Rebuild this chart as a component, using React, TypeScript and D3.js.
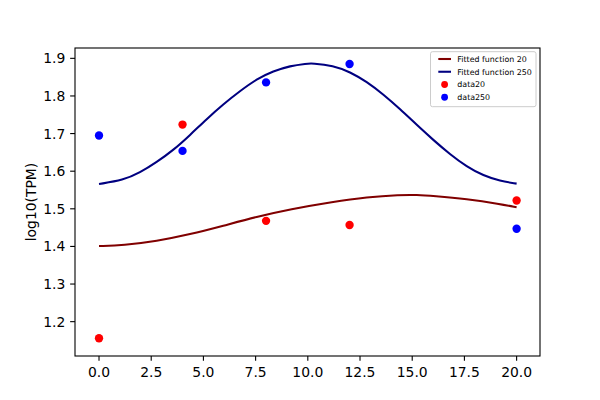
import React from "react";
import * as d3 from "d3";

// Scatter data
const timePoints = [0, 4, 8, 12, 20];
const data20 = [1.156, 1.724, 1.468, 1.457, 1.522];
const data250 = [1.695, 1.654, 1.836, 1.885, 1.447];

// Fitted curves
const fitX250 = [0, 1.16, 1.96, 2.76, 3.56, 4.36, 5.16, 5.95, 6.75, 7.55, 8.35, 9.15, 9.95, 10.2, 11.22, 12.02, 12.82, 13.62, 14.42, 15.22, 16.01, 16.81, 17.61, 18.41, 19.2, 20];
const fitY250 = [1.566, 1.576, 1.596, 1.624, 1.656, 1.696, 1.739, 1.778, 1.813, 1.845, 1.866, 1.88, 1.886, 1.887, 1.881, 1.864, 1.838, 1.804, 1.765, 1.723, 1.683, 1.645, 1.612, 1.588, 1.574, 1.567];
const fitX20 = [0, 1.16, 2.76, 4.36, 5.95, 7.55, 9.15, 11.22, 12.82, 14.42, 15.22, 16.01, 17.61, 19.2, 20];
const fitY20 = [1.401, 1.403, 1.414, 1.432, 1.455, 1.479, 1.499, 1.519, 1.531, 1.537, 1.537, 1.534, 1.526, 1.513, 1.504];

const xTicks = [0, 2.5, 5, 7.5, 10, 12.5, 15, 17.5, 20];
const yTicks = [1.2, 1.3, 1.4, 1.5, 1.6, 1.7, 1.8, 1.9];

const legendLabels = ["Fitted function 20", "Fitted function 250", "data20", "data250"];

const W = 600, H = 400;
const L = 75, R = 540, T = 48, B = 356;
const FONT = "DejaVu Sans";

export default function App() {
  const x = d3.scaleLinear().domain([-1.15, 21.12]).range([L, R]);
  const y = d3.scaleLinear().domain([1.1087, 1.9275]).range([B, T]);

  const line = d3
    .line<[number, number]>()
    .x((d) => x(d[0]))
    .y((d) => y(d[1]))
    .curve(d3.curveBasis);

  const pts20: [number, number][] = fitX20.map((v, i) => [v, fitY20[i]]);
  const pts250: [number, number][] = fitX250.map((v, i) => [v, fitY250[i]]);

  const darkRed = "#800000";
  const navy = "#000080";

  return (
    <svg
      width={W}
      height={H}
      style={{ position: "absolute", left: 0, top: 0, background: "#fff" }}
      fontFamily={FONT}
    >
      <rect x={0} y={0} width={W} height={H} fill="#fff" />
      <defs>
        <clipPath id="plotclip">
          <rect x={L} y={T} width={R - L} height={B - T} />
        </clipPath>
      </defs>
      <g clipPath="url(#plotclip)">
        <path d={line(pts20) || ""} fill="none" stroke={darkRed} strokeWidth={2.08} />
        <path d={line(pts250) || ""} fill="none" stroke={navy} strokeWidth={2.08} />
        {timePoints.map((t, i) => (
          <circle key={"r" + i} cx={x(t)} cy={y(data20[i])} r={4.17} fill="#ff0000" />
        ))}
        {timePoints.map((t, i) => (
          <circle key={"b" + i} cx={x(t)} cy={y(data250[i])} r={4.17} fill="#0000ff" />
        ))}
      </g>
      {/* axes frame */}
      <rect x={L} y={T} width={R - L} height={B - T} fill="none" stroke="#000" strokeWidth={1.1} />
      {/* x ticks */}
      {xTicks.map((t) => (
        <g key={"xt" + t}>
          <line x1={x(t)} x2={x(t)} y1={B} y2={B + 4.86} stroke="#000" strokeWidth={1.1} />
          <text x={x(t)} y={B + 20.5} fontSize={13.9} textAnchor="middle" fill="#000">
            {t.toFixed(1)}
          </text>
        </g>
      ))}
      {/* y ticks */}
      {yTicks.map((t) => (
        <g key={"yt" + t}>
          <line x1={L} x2={L - 4.86} y1={y(t)} y2={y(t)} stroke="#000" strokeWidth={1.1} />
          <text x={L - 9.7} y={y(t) + 5} fontSize={13.9} textAnchor="end" fill="#000">
            {t.toFixed(1)}
          </text>
        </g>
      ))}
      <text
        transform={`translate(${36},${(T + B) / 2}) rotate(-90)`}
        fontSize={13.9}
        textAnchor="middle"
        fill="#000"
      >
        log10(TPM)
      </text>
      {/* legend */}
      <g>
        <rect x={430.5} y={51.7} width={105.5} height={55} rx={2} fill="#fff" fillOpacity={0.8} stroke="#cccccc" strokeWidth={1} />
        {legendLabels.map((lab, i) => {
          const cy = 59 + i * 12.75;
          return (
            <g key={lab}>
              {i < 2 ? (
                <line x1={438.3} x2={451} y1={cy} y2={cy} stroke={i === 0 ? darkRed : navy} strokeWidth={2.08} />
              ) : (
                <circle cx={444.6} cy={cy} r={3.4} fill={i === 2 ? "#ff0000" : "#0000ff"} />
              )}
              <text x={457.3} y={cy + 2.8} fontSize={7.9} fill="#000">
                {lab}
              </text>
            </g>
          );
        })}
      </g>
    </svg>
  );
}
